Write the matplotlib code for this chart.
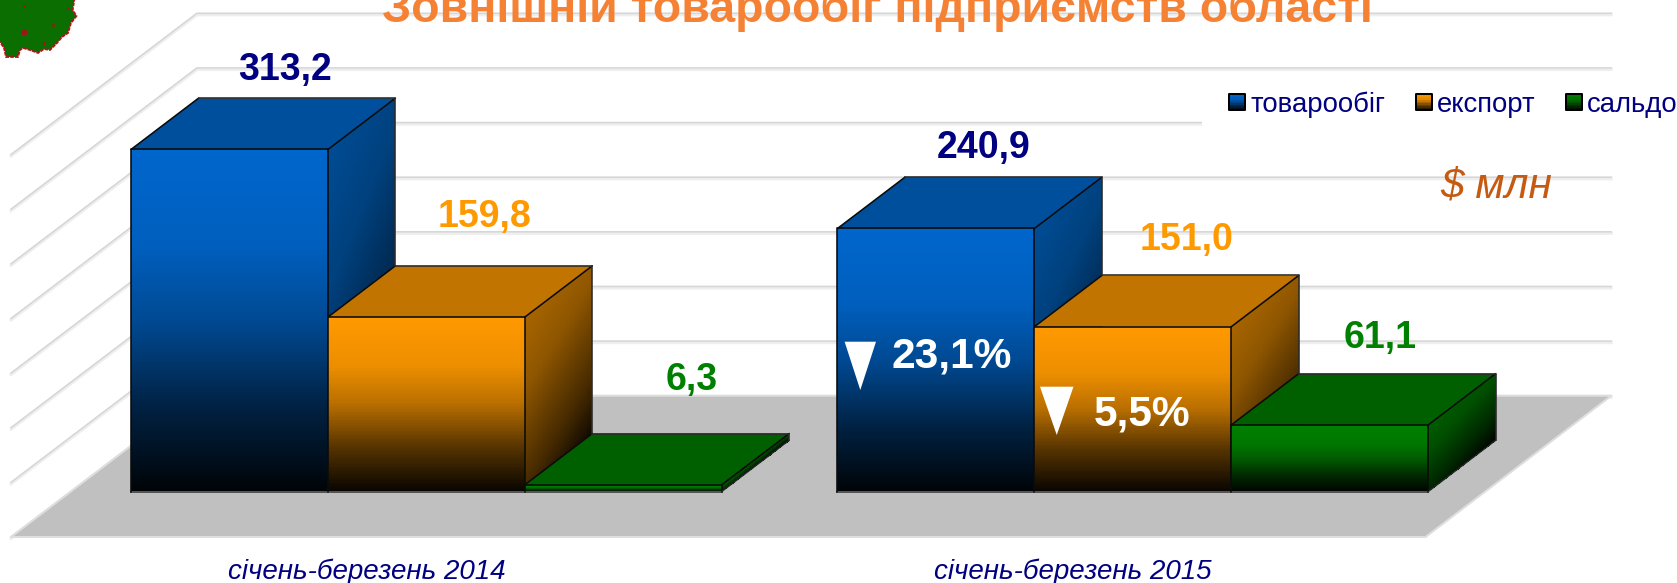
import numpy as np
import matplotlib
matplotlib.use("Agg")
import matplotlib.pyplot as plt
from matplotlib.patches import Polygon, Rectangle, Patch
from matplotlib.legend_handler import HandlerBase

W, H = 1677, 583
plt.rcParams['font.family'] = ['Liberation Sans', 'DejaVu Sans']

# ---------- data ----------
categories = ["січень-березень 2014", "січень-березень 2015"]
series_names = ["товарообіг", "експорт", "сальдо"]
turnover = [313.2, 240.9]
export = [159.8, 151.0]
balance = [6.3, 61.1]
grid_values = [0, 50, 100, 150, 200, 250, 300, 350]
change_labels = ["23,1%", "5,5%"]
title = "Зовнішній товарообіг підприємств області"
unit = "$ млн"

# ---------- styles ----------
front_cols = ["#0066CC", "#FF9900", "#008000"]
top_cols = ["#004F9C", "#C27400", "#006000"]
side_cols = ["#004C94", "#A86500", "#005C00"]
label_cols = ["#000080", "#FF9900", "#008000"]
# label offsets in pixels from the bar's front top centre
label_off = [[(56, 79), (58, 100), (68, 105)],
             [(48, 80), (54, 87), (50, 87)]]

PX_X, PX_Y = 196.9, 1.0926       # px per bar width, px per value unit
X0, Y0 = 131.0, 491.7            # px of first bar's left edge, of value 0
DX, DY = 67.5 / PX_X, 51.3 / PX_Y  # oblique depth vector
GROUP_X = [0.0, 3.588]
D_BACK, D_FRONT = 1.871, -0.883
FLOOR_L, FLOOR_R = -0.307, 6.877


def px2pt(px):
    return px * 72 / 100


fig = plt.figure(figsize=(W / 100, H / 100), dpi=100, facecolor='white')
ax = fig.add_axes([0, 0, 1, 1])
ax.set_xlim((0 - X0) / PX_X, (W - X0) / PX_X)
ax.set_ylim((Y0 - H) / PX_Y, Y0 / PX_Y)
ax.axis('off')

ov = fig.add_axes([0, 0, 1, 1], zorder=5)
ov.set_xlim(0, W)
ov.set_ylim(H, 0)
ov.axis('off')
ov.patch.set_alpha(0)


def proj(x, v, d):
    return x + d * DX, v + d * DY


# ---------- walls and floor ----------
for v in grid_values:
    xs = [FLOOR_L + D_FRONT * DX, FLOOR_L + D_BACK * DX, FLOOR_R + D_BACK * DX]
    ys = [v + D_FRONT * DY, v + D_BACK * DY, v + D_BACK * DY]
    off = 1.8 / PX_Y
    ax.plot(xs, [y - off for y in ys], color='#eeeeee', lw=px2pt(2.6), zorder=1,
            solid_joinstyle='miter')
    ax.plot(xs, ys, color='#d6d6d6', lw=px2pt(1.6), zorder=1.1, solid_joinstyle='miter')

floor = [proj(FLOOR_L, 0, D_FRONT), proj(FLOOR_R, 0, D_FRONT),
         proj(FLOOR_R, 0, D_BACK), proj(FLOOR_L, 0, D_BACK)]
ax.add_patch(Polygon(floor, closed=True, facecolor='#C0C0C0', edgecolor='#dedede',
                     lw=px2pt(2), zorder=2, joinstyle='miter'))


# ---------- bars ----------
def hex2rgb(c):
    return np.array(matplotlib.colors.to_rgb(c))


def front_bright(s):
    return np.interp(s, [0, .28, .5, .75, 1], [1, .93, .72, .33, .03])


def side_bright(t):
    return np.interp(t, [0, .3, .7, 1], [1, .85, .42, 0])


zo = 3.0
for g, gx in enumerate(GROUP_X):
    for i, vals in enumerate([turnover, export, balance]):
        v = vals[g]
        x0, x1 = gx + i, gx + i + 1
        # front face
        ss = np.linspace(0, 1, 121)
        xm = np.array([x0, x1])
        ym = v * (1 - ss)
        c = front_bright((ss[:-1] + ss[1:]) / 2)[:, None, None] * hex2rgb(front_cols[i])[None, None, :]
        X, Y = np.meshgrid(xm, ym)
        ax.pcolormesh(X, Y, c, zorder=zo, shading='flat')
        # side face
        dd = np.linspace(0, 1, 41)
        S, D = np.meshgrid(ss, dd, indexing='ij')
        XS = x1 + D * DX
        YS = v * (1 - S) + D * DY
        Sc = (S[:-1, :-1] + S[1:, 1:]) / 2
        Dc = (D[:-1, :-1] + D[1:, 1:]) / 2
        c2 = side_bright(np.clip(.72 * Sc + .24 * Dc, 0, 1))[:, :, None] * hex2rgb(side_cols[i])
        ax.pcolormesh(XS, YS, c2, zorder=zo, shading='flat')
        # top face
        top = [proj(x0, v, 0), proj(x1, v, 0), proj(x1, v, 1), proj(x0, v, 1)]
        ax.add_patch(Polygon(top, closed=True, facecolor=top_cols[i], edgecolor='none', zorder=zo))
        # outlines
        ec = dict(color='#0b0b0b', lw=px2pt(1.6), zorder=zo + .1, solid_capstyle='round')
        ax.plot([x0, x0, x1, x1], [0, v, v, 0], **ec)
        ax.plot(*zip(proj(x0, v, 0), proj(x0, v, 1)), **ec)
        ax.plot(*zip(proj(x1, v, 0), proj(x1, v, 1)), **ec)
        ec2 = dict(color='#2a2a2a', lw=px2pt(1.6), zorder=zo + .1)
        ax.plot(*zip(proj(x0, v, 1), proj(x1, v, 1), proj(x1, 0, 1)), **ec2)
        ax.plot(*zip(proj(x1, 0, 0), proj(x1, 0, 1)), color='#2a2a2a', lw=px2pt(1.2), zorder=zo + .1)
        ax.plot([x0, x1], [0, 0], color='#555555', lw=px2pt(2), zorder=zo + .05)
        zo += 1
        # value label
        dxp, dyp = label_off[g][i]
        ax.text(x0 + .5 + dxp / PX_X, v + dyp / PX_Y, f"{v:.1f}".replace('.', ','),
                color=label_cols[i], fontsize=px2pt(37.5), fontweight='bold',
                ha='center', va='center', zorder=50)
    # category label on the floor's front
    ax.text(gx + 1.5 + D_FRONT * DX, (Y0 - 572) / PX_Y, categories[g], color='#000080',
            fontsize=px2pt(27.8), style='italic', ha='center', va='center', zorder=50)

# ---------- change annotations ----------
tri_boxes = [(844.6, 876, 341.7, 390), (1040, 1073.5, 386.7, 435)]
chg_pos = [(952, 356.5), (1142, 414.5)]
for (a, b, c_, d_), (tx, ty), s in zip(tri_boxes, chg_pos, change_labels):
    ov.add_patch(Polygon([(a, c_), (b, c_), ((a + b) / 2, d_)], closed=True, facecolor='white', edgecolor='none'))
    ov.text(tx, ty, s, color='white', fontsize=px2pt(42.5), fontweight='bold', ha='center', va='center')

# ---------- title / unit ----------
ov.text(877, 21.6, title, color='#F58234', fontsize=px2pt(46.5), fontweight='bold',
        ha='center', va='baseline')
ov.text(1496, 186, unit, color='#C55A11', fontsize=px2pt(42.5), style='italic',
        ha='center', va='center')

# white gap that the legend leaves in the gridline
ov.add_patch(Rectangle((1202, 112), W - 1202, 18, facecolor='white', edgecolor='none', zorder=0))

# ---------- logo ----------
logo = [(74.6, -2), (72.7, 10), (76.5, 16), (71, 23), (68, 33), (62, 37), (57, 43), (50, 50), (44, 49),
        (38, 53), (30, 50), (23, 48), (20, 50), (18, 57), (6, 57), (4, 48), (0, 42), (-2, 42), (-2, -2)]
ov.add_patch(Polygon(logo, closed=True, facecolor='#0B6E00', edgecolor='#B5121B', lw=px2pt(1.8), linestyle=(0, (2, .6))))
for (lx, ly, r) in [(24, 32, 6), (24, 6, 3), (53, 25, 3), (44, 43, 3), (68, 8, 3)]:
    ov.plot([lx], [ly], 'o', color='#A5121B', ms=px2pt(r), mew=0)


# ---------- legend ----------
class GradHandler(HandlerBase):
    def create_artists(self, legend, orig, xd, yd, width, height, fontsize, trans):
        col = hex2rgb(orig.get_facecolor()[:3])
        size = width
        x0 = -xd
        y0 = -yd + (height - size) / 2
        arts = []
        n = 10
        for k in range(n):
            t = (k + .5) / n
            b = float(np.interp(t, [0, .35, 1], [1, .9, .1]))
            arts.append(Rectangle((x0, y0 + size * (1 - (k + 1) / n)), size, size / n + .3,
                                  facecolor=col * b, edgecolor='none', transform=trans))
        arts.append(Rectangle((x0, y0), size, size, facecolor='none', edgecolor='#000000',
                              lw=px2pt(2), transform=trans, joinstyle='round'))
        return arts


handles = [Patch(facecolor=c, label=n) for c, n in zip(front_cols, series_names)]
leg = fig.legend(handles=handles, loc='upper left', bbox_to_anchor=(1219 / W, 1 - 81 / H),
                 bbox_transform=fig.transFigure, ncols=3, frameon=False, fontsize=px2pt(27.5),
                 labelcolor='#000080', borderpad=.37, borderaxespad=0, handlelength=.58, handleheight=.62,
                 handletextpad=.2, columnspacing=1.09,
                 handler_map={Patch: GradHandler()})

fig.savefig('out.png', dpi=100, facecolor='white')
